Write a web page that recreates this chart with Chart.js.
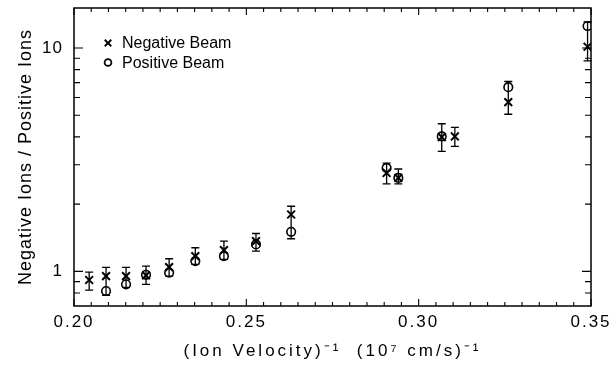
<!DOCTYPE html>
<html><head><meta charset="utf-8">
<script src="https://cdn.jsdelivr.net/npm/chart.js@4/dist/chart.umd.min.js"></script>
<style>html,body{margin:0;padding:0;background:#fff;overflow:hidden}#wrap{width:613px;height:371px}</style>
</head><body><div id="wrap"><canvas id="c" width="613" height="371"></canvas></div>
<script>
// ---- data ----
const xNegative     = [0.2044,0.2093,0.2151,0.2209,0.2276,0.2352,0.2435,0.2528,0.2630,0.2907,0.2941,0.3067,0.3105,0.3260,0.3490];
const negativeRatio = [0.915,0.953,0.953,0.960,1.045,1.170,1.245,1.366,1.797,2.758,2.620,3.994,4.018,5.722,10.13];
const errLow        = [0.825,0.782,0.848,0.875,0.953,1.075,1.131,1.232,1.40,2.463,2.463,3.445,3.625,5.05,8.76];
const errHigh       = [0.993,1.042,1.042,1.056,1.139,1.276,1.366,1.478,1.957,3.055,2.873,4.58,4.41,7.08,13.1];
const xPositive     = [0.2093,0.2151,0.2209,0.2276,0.2352,0.2435,0.2528,0.2630,0.2907,0.2941,0.3067,0.3260,0.3490];
const positiveRatio = [0.817,0.875,0.965,0.987,1.112,1.170,1.32,1.504,2.904,2.62,4.018,6.677,12.54];
const xMajorTicks = [0.20,0.25,0.30,0.35];
const yMajorTicks = [1,10];
const yMinorTicks = [0.8,0.9,2,3,4,5,6,7,8,9];
const xMinorStep = 0.005;
const seriesLabels = ['Negative Beam','Positive Beam'];
const xTitle = '(Ion Velocity)\u207B\u00B9  (10\u2077 cm/s)\u207B\u00B9';
const yTitle = 'Negative Ions / Positive Ions';

const FONT = "'Liberation Sans', Arial, Helvetica, sans-serif";

const spacing = {x: {drawLabels: '2px', drawTitle: '3px'}, y: {drawLabels: '1px', drawTitle: '1px'}};
const spacingPlugin = {
  id: 'spacing',
  beforeDraw(chart) {
    Object.keys(spacing).forEach(id => {
      const s = chart.scales[id];
      if (!s || s.__spaced) return;
      Object.keys(spacing[id]).forEach(fn => {
        const orig = s[fn];
        const sp = spacing[id][fn];
        s[fn] = function(a) { const c = this.ctx; c.save(); c.letterSpacing = sp; orig.call(this, a); c.restore(); };
      });
      s.__spaced = true;
    });
  }
};

const frameTicksPlugin = {
  id: 'frameTicks',
  afterDraw(chart) {
    const {ctx, chartArea: a, scales: {x, y}} = chart;
    ctx.save();
    ctx.strokeStyle = '#000';
    ctx.lineWidth = 1.5;
    ctx.strokeRect(a.left, a.top, a.right - a.left, a.bottom - a.top);
    ctx.lineWidth = 1.1;
    ctx.beginPath();
    const xmaj = 7, xmin = 4, ymaj = 9, ymin = 6;
    for (let v = x.min; v <= x.max + 1e-9; v += xMinorStep) {
      const px = x.getPixelForValue(v);
      const isMaj = xMajorTicks.some(m => Math.abs(m - v) < 1e-6);
      const L = isMaj ? xmaj : xmin;
      ctx.moveTo(px, a.bottom); ctx.lineTo(px, a.bottom - L);
      ctx.moveTo(px, a.top); ctx.lineTo(px, a.top + L);
    }
    yMajorTicks.concat(yMinorTicks).forEach(v => {
      const py = y.getPixelForValue(v);
      const L = yMajorTicks.includes(v) ? ymaj : ymin;
      ctx.moveTo(a.left, py); ctx.lineTo(a.left + L, py);
      ctx.moveTo(a.right, py); ctx.lineTo(a.right - L, py);
    });
    ctx.stroke();
    ctx.restore();
  }
};

const errorBarPlugin = {
  id: 'errorBars',
  afterDatasetsDraw(chart) {
    const {ctx, scales: {x, y}} = chart;
    ctx.save();
    ctx.strokeStyle = '#000';
    ctx.lineWidth = 1.3;
    ctx.beginPath();
    xNegative.forEach((xv, i) => {
      const px = x.getPixelForValue(xv);
      const pl = y.getPixelForValue(errLow[i]);
      const ph = y.getPixelForValue(errHigh[i]);
      ctx.moveTo(px, pl); ctx.lineTo(px, ph);
      ctx.moveTo(px - 4, pl); ctx.lineTo(px + 4, pl);
      ctx.moveTo(px - 4, ph); ctx.lineTo(px + 4, ph);
    });
    ctx.stroke();
    ctx.restore();
  }
};

const innerLegendPlugin = {
  id: 'innerLegend',
  afterDraw(chart) {
    const {ctx, chartArea: a} = chart;
    ctx.save();
    ctx.font = '16px ' + FONT;
    ctx.textBaseline = 'middle';
    chart.data.datasets.forEach((ds, i) => {
      const cy = a.top + 35 + i * 19.5;
      const cx = a.left + 34;
      const r = ds.pointStyle === 'crossRot' ? 4.6 : 3.4;
      ctx.strokeStyle = '#000';
      ctx.fillStyle = 'rgba(0,0,0,0)';
      ctx.lineWidth = 1.8;
      Chart.helpers.drawPoint(ctx, {pointStyle: ds.pointStyle, radius: r, borderWidth: 1.8, rotation: 0}, cx, cy);
      ctx.fillStyle = '#000';
      ctx.fillText(ds.label, cx + 14, cy + 1);
    });
    ctx.restore();
  }
};

function zeroPad(s) { s.paddingTop = 0; s.paddingBottom = 0; s.paddingLeft = 0; s.paddingRight = 0; }

new Chart(document.getElementById('c'), {
  type: 'scatter',
  data: {
    datasets: [
      {
        label: seriesLabels[0],
        data: xNegative.map((v, i) => ({x: v, y: negativeRatio[i]})),
        pointStyle: 'crossRot', pointRadius: 5.5, borderColor: '#000', backgroundColor: '#000', borderWidth: 2
      },
      {
        label: seriesLabels[1],
        data: xPositive.map((v, i) => ({x: v, y: positiveRatio[i]})),
        pointStyle: 'circle', pointRadius: 4.3, borderColor: '#000', backgroundColor: 'rgba(0,0,0,0)', borderWidth: 1.6
      }
    ]
  },
  options: {
    responsive: false,
    animation: false,
    devicePixelRatio: 1,
    layout: {autoPadding: false, padding: {top: 8, right: 22, left: 0, bottom: 0}},
    plugins: {legend: {display: false}, tooltip: {enabled: false}},
    scales: {
      x: {
        type: 'linear', min: 0.2, max: 0.35,
        afterBuildTicks: s => { s.ticks = xMajorTicks.map(v => ({value: v})); },
        afterFit: s => { s.height = 65; zeroPad(s); },
        grid: {display: false, drawTicks: false},
        border: {display: false},
        ticks: {padding: 6, color: '#000', font: {family: FONT, size: 17}, callback: v => Number(v).toFixed(2), maxRotation: 0, autoSkip: false},
        title: {display: true, text: xTitle, color: '#000', font: {family: FONT, size: 17}, padding: {top: 0, bottom: 9}}
      },
      y: {
        type: 'logarithmic', min: 0.7, max: 15.1,
        afterBuildTicks: s => { s.ticks = yMajorTicks.map(v => ({value: v})); },
        afterFit: s => { s.width = 74; zeroPad(s); },
        grid: {display: false, drawTicks: false},
        border: {display: false},
        ticks: {padding: 11, color: '#000', font: {family: FONT, size: 17}, callback: v => String(v), autoSkip: false},
        title: {display: true, text: yTitle, color: '#000', font: {family: FONT, size: 18}, padding: {top: 15, bottom: 0}}
      }
    }
  },
  plugins: [spacingPlugin, errorBarPlugin, frameTicksPlugin, innerLegendPlugin]
});
</script>
</body></html>
